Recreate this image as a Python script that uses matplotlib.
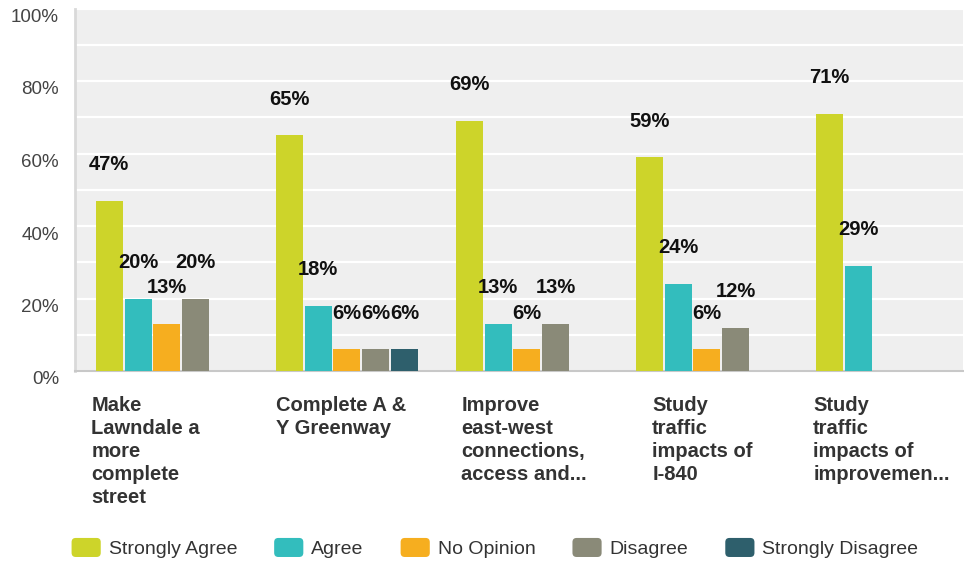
import matplotlib
matplotlib.use("Agg")
import matplotlib.pyplot as plt
from matplotlib.patches import Patch, FancyBboxPatch
from matplotlib.legend_handler import HandlerPatch
from matplotlib.transforms import ScaledTranslation, blended_transform_factory
import numpy as np

plt.rcParams['font.family'] = ['Liberation Sans', 'DejaVu Sans']

categories = [
    "Make\nLawndale a\nmore\ncomplete\nstreet",
    "Complete A &\nY Greenway",
    "Improve\neast-west\nconnections,\naccess and...",
    "Study\ntraffic\nimpacts of\nI-840",
    "Study\ntraffic\nimpacts of\nimprovemen...",
]
responses = ["Strongly Agree", "Agree", "No Opinion", "Disagree", "Strongly Disagree"]
strongly_agree = [47, 65, 69, 59, 71]
agree = [20, 18, 13, 24, 29]
no_opinion = [13, 6, 6, 6, 0]
disagree = [20, 6, 13, 12, 0]
strongly_disagree = [0, 6, 0, 0, 0]
series = [strongly_agree, agree, no_opinion, disagree, strongly_disagree]
colors = ["#cdd42a", "#33bdbd", "#f6ae1f", "#8a8a78", "#2e5f6c"]
yticks = [0, 20, 40, 60, 80, 100]

fig = plt.figure(figsize=(9.64, 5.61), dpi=100)
ax = fig.add_axes([75 / 964, (561 - 371) / 561, (963 - 75) / 964, (371 - 8.5) / 561])
ax.set_facecolor("#efefef")

x = np.arange(len(categories))
step, width = 0.16, 0.15
for j, (vals, col) in enumerate(zip(series, colors)):
    for i, v in enumerate(vals):
        if v == 0:
            continue
        xb = x[i] + (j - 2) * step
        ax.bar(xb, v, width=width, color=col, zorder=3)
        ax.annotate(f"{v}%", (xb, v), xytext=(0, 26), textcoords="offset points",
                    ha="center", va="center", fontsize=14.5, fontweight="bold",
                    color="#111111", zorder=4)

ax.set_xlim(-0.51, 4.423)
ax.set_ylim(0, 100)
ax.set_yticks(yticks)
ax.set_yticklabels([f"{t}%" for t in yticks])
ax.set_yticks(range(10, 100, 20), minor=True)
ax.grid(True, axis="y", which="both", color="white", linewidth=1.6, zorder=1)
ax.set_xticks([])
ax.tick_params(axis="y", which="both", length=0, pad=11.5, labelsize=13.5, labelcolor="#444444")
shift = ScaledTranslation(0, -7 / 100, fig.dpi_scale_trans)
for lab in ax.get_yticklabels():
    lab.set_transform(lab.get_transform() + shift)

for s in ("top", "right"):
    ax.spines[s].set_visible(False)
ax.spines["left"].set_color("#d9d9d9")
ax.spines["left"].set_linewidth(2)
ax.spines["bottom"].set_color("#c8c8c8")
ax.spines["bottom"].set_linewidth(1.5)

# category labels, left aligned under each group (small per-label nudge in px)
trans = blended_transform_factory(ax.transData, ax.transAxes)
nudge_px = [0, 5, 10, 21, 2]
for i, cat in enumerate(categories):
    t = trans + ScaledTranslation(nudge_px[i] / 100, 0, fig.dpi_scale_trans)
    ax.text(x[i] - 0.42, -0.068, cat, transform=t, ha="left", va="top",
            fontsize=14.5, fontweight="bold", color="#333333", linespacing=1.27)


def rounded_patch(legend, orig_handle, xdescent, ydescent, width, height, fontsize):
    return FancyBboxPatch((-xdescent, -ydescent), width, height,
                          boxstyle="round,pad=0,rounding_size=3")


handles = [Patch(facecolor=c, edgecolor="none", label=r) for c, r in zip(colors, responses)]
fig.legend(handles=handles, loc="center", bbox_to_anchor=(495 / 964, 1 - 548 / 561),
           ncol=5, frameon=False, fontsize=14, handlelength=1.5, handleheight=1.13,
           handletextpad=0.41, columnspacing=1.9, borderpad=0, labelcolor="#333333",
           handler_map={Patch: HandlerPatch(patch_func=rounded_patch)})

fig.savefig("out.png", dpi=100)
